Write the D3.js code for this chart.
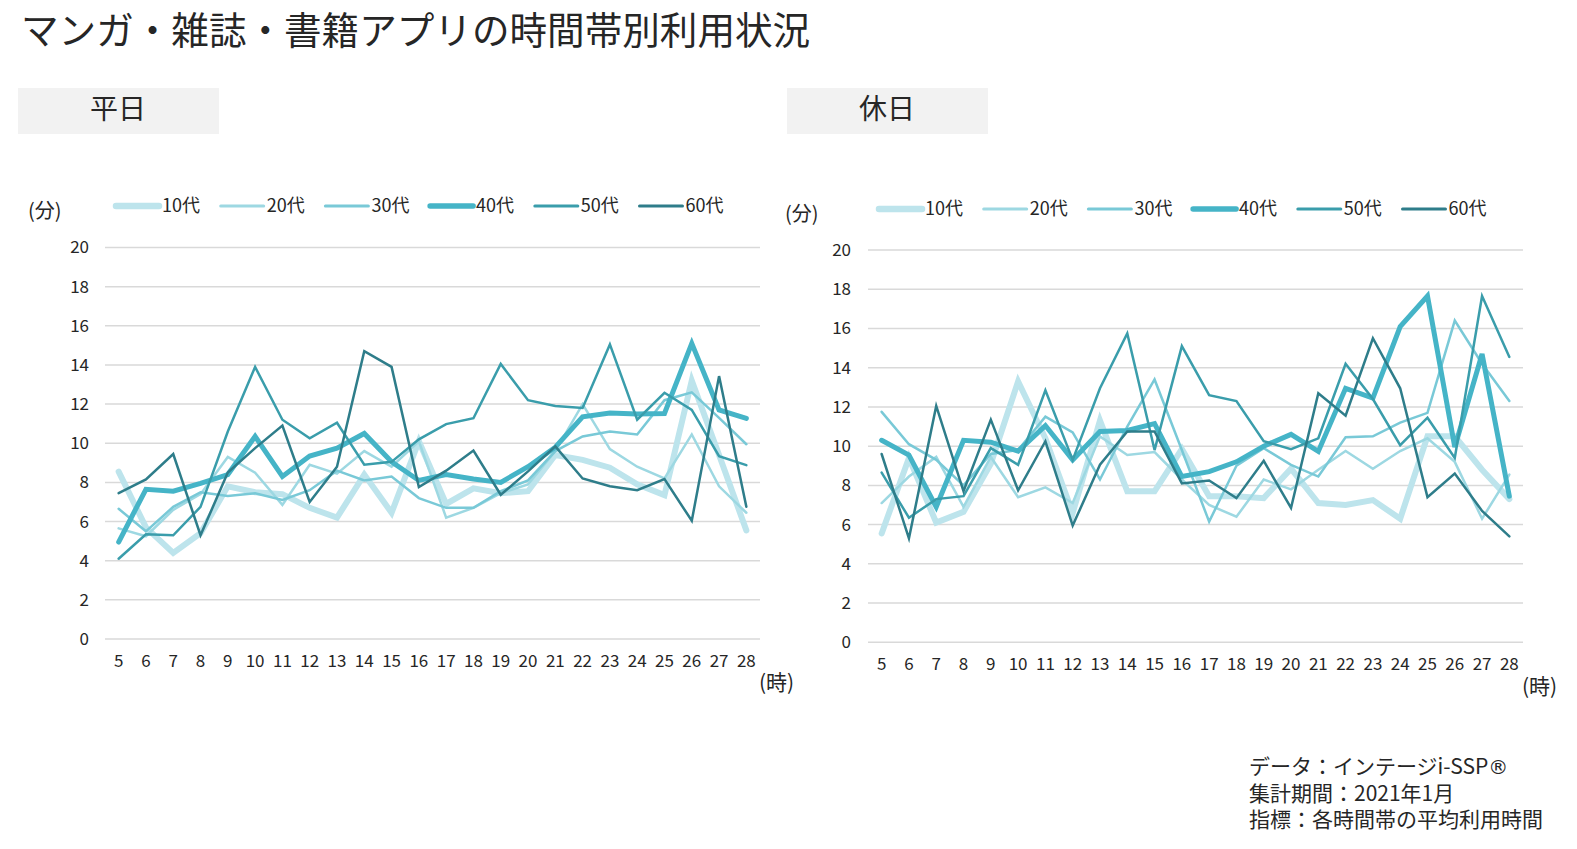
<!DOCTYPE html>
<html>
<head>
<meta charset="utf-8">
<script src="https://cdn.jsdelivr.net/npm/d3@7"></script>
<style>
  body { margin: 0; background: #fff; }
  svg { display: block; font-family: "Noto Sans CJK JP", "Noto Sans", sans-serif; }
</style>
</head>
<body>
<div id="chart"></div>
<script>
// hours on the x axis (5時 .. 28時)
var hours = [5, 6, 7, 8, 9, 10, 11, 12, 13, 14, 15, 16, 17, 18, 19, 20, 21, 22, 23, 24, 25, 26, 27, 28];
var yTicks = [0, 2, 4, 6, 8, 10, 12, 14, 16, 18, 20];
var ageGroups = ["10代", "20代", "30代", "40代", "50代", "60代"];

// 平日 (minutes)
var weekday10 = [8.55, 5.7, 4.4, 5.4, 7.8, 7.5, 7.4, 6.7, 6.2, 8.4, 6.45, 10.1, 6.9, 7.7, 7.45, 7.55, 9.4, 9.15, 8.75, 7.9, 7.35, 13.2, 9.4, 5.55];
var weekday20 = [5.65, 5.25, 6.6, 7.4, 9.3, 8.5, 6.85, 8.9, 8.45, 9.6, 8.8, 10.1, 6.2, 6.7, 7.45, 7.9, 9.6, 12.0, 9.7, 8.8, 8.2, 10.45, 7.8, 6.45];
var weekday30 = [6.65, 5.5, 6.75, 7.5, 7.3, 7.45, 7.1, 7.6, 8.6, 8.1, 8.3, 7.2, 6.7, 6.7, 7.55, 8.1, 9.6, 10.35, 10.6, 10.45, 12.2, 12.6, 11.3, 9.95];
var weekday40 = [4.95, 7.65, 7.55, 7.95, 8.4, 10.35, 8.3, 9.35, 9.75, 10.5, 9.05, 8.1, 8.4, 8.17, 8.0, 8.8, 9.8, 11.35, 11.55, 11.5, 11.52, 15.1, 11.7, 11.27];
var weekday50 = [4.1, 5.35, 5.3, 6.75, 10.6, 13.9, 11.2, 10.25, 11.05, 8.9, 9.05, 10.2, 10.98, 11.28, 14.05, 12.2, 11.9, 11.8, 15.05, 11.2, 12.58, 11.7, 9.34, 8.88];
var weekday60 = [7.45, 8.15, 9.45, 5.3, 8.5, 9.75, 10.9, 7.0, 8.8, 14.7, 13.9, 7.76, 8.6, 9.63, 7.37, 8.56, 9.84, 8.2, 7.8, 7.6, 8.17, 6.04, 13.43, 6.76];

// 休日 (minutes)
var holiday10 = [5.55, 9.4, 6.1, 6.65, 9.1, 13.3, 10.4, 6.6, 11.3, 7.7, 7.7, 9.85, 7.45, 7.45, 7.35, 8.85, 7.1, 7.0, 7.25, 6.3, 10.5, 10.5, 8.8, 7.3];
var holiday20 = [7.1, 8.45, 9.45, 6.9, 9.45, 7.4, 7.9, 7.1, 10.5, 9.55, 9.7, 8.3, 7.0, 6.4, 8.3, 7.8, 8.8, 9.75, 8.85, 9.75, 10.4, 9.2, 6.3, 8.55];
var holiday30 = [11.75, 10.1, 9.3, 8.0, 9.6, 9.8, 11.5, 10.7, 8.3, 11.0, 13.4, 9.8, 6.15, 9.0, 9.9, 9.05, 8.45, 10.45, 10.5, 11.2, 11.7, 16.4, 14.2, 12.3];
var holiday40 = [10.3, 9.55, 6.9, 10.3, 10.2, 9.75, 11.05, 9.3, 10.75, 10.8, 11.15, 8.45, 8.7, 9.2, 10.0, 10.6, 9.73, 12.95, 12.45, 16.1, 17.65, 9.95, 14.7, 7.45];
var holiday50 = [8.65, 6.35, 7.3, 7.45, 9.9, 9.05, 12.85, 9.3, 12.95, 15.75, 9.8, 15.1, 12.6, 12.3, 10.25, 9.85, 10.4, 14.2, 12.4, 10.05, 11.45, 9.4, 17.65, 14.55];
var holiday60 = [9.6, 5.3, 12.05, 7.7, 11.35, 7.75, 10.25, 5.95, 9.05, 10.75, 10.75, 8.1, 8.25, 7.35, 9.25, 6.85, 12.7, 11.55, 15.5, 12.95, 7.4, 8.6, 6.7, 5.4];

var colors = ["#bde4ec", "#9dd8e2", "#79c9d7", "#45b4c7", "#3a9dab", "#2e7d8a"];
var widths = [6, 2.5, 2.5, 5, 2.5, 2.5];

var textColor = "#262626";

var svg = d3.select("#chart")
  .append("svg")
    .attr("width", 1577)
    .attr("height", 849);

svg.append("rect")
  .attr("width", 1577)
  .attr("height", 849)
  .attr("fill", "#fff");

// title
svg.append("text")
  .attr("x", 21)
  .attr("y", 44)
  .style("font-size", "37.6px")
  .attr("fill", textColor)
  .text("マンガ・雑誌・書籍アプリの時間帯別利用状況");

// the two panels
var panels = [
  { label: "平日", series: [weekday10, weekday20, weekday30, weekday40, weekday50, weekday60],
    boxX: 18, dy: 0, left: 105, right: 760, top: 247.5, bottom: 639,
    tickX: 89, legendX: 116, unitX: 28 },
  { label: "休日", series: [holiday10, holiday20, holiday30, holiday40, holiday50, holiday60],
    boxX: 787, dy: 3, left: 868, right: 1523, top: 250, bottom: 642.3,
    tickX: 851, legendX: 879, unitX: 785 }
];

panels.forEach(function(p) {

  var g = svg.append("g");

  // label box
  g.append("rect")
    .attr("x", p.boxX)
    .attr("y", 88)
    .attr("width", 201)
    .attr("height", 46)
    .attr("fill", "#f2f2f2");
  g.append("text")
    .attr("x", p.boxX + 100)
    .attr("y", 119)
    .attr("text-anchor", "middle")
    .style("font-size", "28px")
    .attr("fill", textColor)
    .text(p.label);

  var x = d3.scalePoint()
    .domain(hours)
    .range([p.left, p.right])
    .padding(0.5);

  var y = d3.scaleLinear()
    .domain([0, 20])
    .range([p.bottom, p.top]);

  // gridlines
  g.selectAll(".grid")
    .data(yTicks)
    .enter()
    .append("line")
      .attr("x1", p.left)
      .attr("x2", p.right)
      .attr("y1", function(d) { return y(d); })
      .attr("y2", function(d) { return y(d); })
      .attr("stroke", "#d9d9d9")
      .attr("stroke-width", 1.5);

  // y tick labels
  g.selectAll(".ytick")
    .data(yTicks)
    .enter()
    .append("text")
      .attr("x", p.tickX)
      .attr("y", function(d) { return y(d); })
      .attr("dy", "0.35em")
      .attr("text-anchor", "end")
      .style("font-size", "17px")
      .attr("fill", textColor)
      .text(function(d) { return d; });

  // x tick labels
  g.selectAll(".xtick")
    .data(hours)
    .enter()
    .append("text")
      .attr("x", function(d) { return x(d); })
      .attr("y", p.bottom + 22)
      .attr("dy", "0.35em")
      .attr("text-anchor", "middle")
      .style("font-size", "17px")
      .attr("fill", textColor)
      .text(function(d) { return d; });

  // units
  g.append("text")
    .attr("x", p.unitX)
    .attr("y", 211 + p.dy)
    .attr("dy", "0.35em")
    .style("font-size", "20px")
    .attr("fill", textColor)
    .text("(分)");
  g.append("text")
    .attr("x", p.right - 1)
    .attr("y", p.bottom + 44)
    .attr("dy", "0.35em")
    .style("font-size", "21px")
    .attr("fill", textColor)
    .text("(時)");

  // lines
  var line = d3.line()
    .x(function(d, i) { return x(hours[i]); })
    .y(function(d) { return y(d); });

  p.series.forEach(function(values, k) {
    g.append("path")
      .datum(values)
      .attr("d", line)
      .attr("fill", "none")
      .attr("stroke", colors[k])
      .attr("stroke-width", widths[k])
      .attr("stroke-linejoin", "miter")
      .attr("stroke-miterlimit", 4)
      .attr("stroke-linecap", "round");
  });

  // legend
  var legend = g.selectAll(".legend")
    .data(ageGroups)
    .enter()
    .append("g")
      .attr("transform", function(d, i) {
        return "translate(" + (p.legendX + i * 104.7) + "," + (206 + p.dy) + ")";
      });
  legend.append("line")
    .attr("x1", 0)
    .attr("x2", 43)
    .attr("stroke", function(d, i) { return colors[i]; })
    .attr("stroke-width", function(d, i) { return widths[i] + 0.5; })
    .attr("stroke-linecap", "round");
  legend.append("text")
    .attr("x", 46)
    .attr("dy", "0.35em")
    .style("font-size", "18px")
    .attr("fill", textColor)
    .text(function(d) { return d; });
});

// source note (® drawn with DejaVu so it sits at full size)
var notes = [["データ：インテージi-SSP", "®"], ["集計期間：2021年1月", ""], ["指標：各時間帯の平均利用時間", ""]];
var noteText = svg.selectAll(".note")
  .data(notes)
  .enter()
  .append("text")
    .attr("x", 1249)
    .attr("y", function(d, i) { return 767 + i * 26.5; })
    .attr("dy", "0.35em")
    .style("font-size", "21px")
    .attr("fill", textColor);
noteText.append("tspan")
  .text(function(d) { return d[0]; });
noteText.append("tspan")
  .style("font-family", "'DejaVu Sans'")
  .style("font-size", "20px")
  .text(function(d) { return d[1]; });
</script>
</body>
</html>
